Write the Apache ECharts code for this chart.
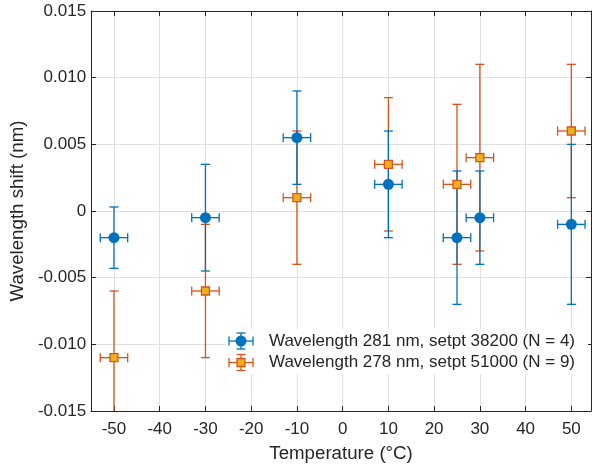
<!DOCTYPE html>
<html>
<head>
<meta charset="utf-8">
<script src="https://cdn.jsdelivr.net/npm/echarts@6/dist/echarts.min.js"></script>
<style>
  html, body { margin: 0; padding: 0; background: #fff; }
  #chart { width: 592px; height: 468px; }
</style>
</head>
<body>
<div id="chart"></div>
<script>
// temperatures (°C)
const temps = [-50, -30, -10, 10, 25, 30, 50]
const tempErr = 3

// 281 nm, setpt 38200
const shift281 = [-0.002, -0.0005, 0.0055, 0.002, -0.002, -0.0005, -0.001]
const err281 = [0.0023, 0.004, 0.0035, 0.004, 0.005, 0.0035, 0.006]

// 278 nm, setpt 51000
const shift278 = [-0.011, -0.006, 0.001, 0.0035, 0.002, 0.004, 0.006]
const err278 = [0.005, 0.005, 0.005, 0.005, 0.006, 0.007, 0.005]

const legendNames = [
  'Wavelength 281 nm, setpt 38200 (N = 4)',
  'Wavelength 278 nm, setpt 51000 (N = 9)'
]

const BLUE = '#0072BD'
const ORANGE = '#D95319'
const YELLOW = '#EDB120'
const INK = '#262626'
const GRID = '#e0e0e0'
const FONT = 'Liberation Sans, Arial, sans-serif'

function rows (ys, errs) {
  return temps.map((t, i) => [t, ys[i], errs[i], tempErr])
}

function errorBars (color) {
  return function (params, api) {
    const x = api.value(0)
    const y = api.value(1)
    const ey = api.value(2)
    const ex = api.value(3)
    const top = api.coord([x, y + ey])
    const bot = api.coord([x, y - ey])
    const l = api.coord([x - ex, y])
    const r = api.coord([x + ex, y])
    const cap = 4.5
    const style = { stroke: color, lineWidth: 1.3 }
    const seg = (x1, y1, x2, y2) => ({ type: 'line', shape: { x1, y1, x2, y2 }, style })
    return {
      type: 'group',
      children: [
        seg(top[0], top[1], bot[0], bot[1]),
        seg(top[0] - cap, top[1], top[0] + cap, top[1]),
        seg(bot[0] - cap, bot[1], bot[0] + cap, bot[1]),
        seg(l[0], l[1], r[0], r[1]),
        seg(l[0], l[1] - cap, l[0], l[1] + cap),
        seg(r[0], r[1] - cap, r[0], r[1] + cap)
      ]
    }
  }
}

function legendEntry (cy, color, marker) {
  const style = { stroke: color, lineWidth: 1.3 }
  const seg = (x1, y1, x2, y2) => ({ type: 'line', z: 101, shape: { x1, y1, x2, y2 }, style })
  const cx = 241
  return [
    seg(cx - 12, cy, cx + 12, cy),
    seg(cx - 12, cy - 4.5, cx - 12, cy + 4.5),
    seg(cx + 12, cy - 4.5, cx + 12, cy + 4.5),
    seg(cx, cy - 8, cx, cy + 8),
    seg(cx - 4.5, cy - 8, cx + 4.5, cy - 8),
    seg(cx - 4.5, cy + 8, cx + 4.5, cy + 8),
    marker
  ]
}

const chart = echarts.init(document.getElementById('chart'))

const xCommon = {
  type: 'value',
  min: -55,
  max: 54.3,
  minInterval: 10,
  maxInterval: 10,
  axisLine: { show: true, onZero: false, lineStyle: { color: INK, width: 1 } },
  axisTick: { show: true, inside: true, length: 5, lineStyle: { color: INK } }
}
const yCommon = {
  type: 'value',
  min: -0.015,
  max: 0.015,
  interval: 0.005,
  axisLine: { show: true, onZero: false, lineStyle: { color: INK, width: 1 } },
  axisTick: { show: true, inside: true, length: 5, lineStyle: { color: INK } }
}

chart.setOption({
  animation: false,
  textStyle: { fontFamily: FONT },
  grid: { left: 86.5, right: 1, top: 11, bottom: 56.5 },
  xAxis: [
    Object.assign({}, xCommon, {
      position: 'bottom',
      name: 'Temperature (°C)',
      nameLocation: 'middle',
      nameGap: 33,
      nameTextStyle: { color: INK, fontSize: 18.7, fontFamily: FONT },
      axisLabel: { color: INK, fontSize: 17, margin: 10, showMinLabel: false, showMaxLabel: false, fontFamily: FONT },
      splitLine: { show: true, lineStyle: { color: GRID, width: 1 } }
    }),
    Object.assign({}, xCommon, {
      position: 'top',
      axisLabel: { show: false },
      splitLine: { show: false }
    })
  ],
  yAxis: [
    Object.assign({}, yCommon, {
      position: 'left',
      name: 'Wavelength shift (nm)',
      nameLocation: 'middle',
      nameGap: 60,
      nameTextStyle: { color: INK, fontSize: 18.7, fontFamily: FONT },
      axisLabel: {
        color: INK,
        fontSize: 17,
        margin: 5,
        fontFamily: FONT,
        formatter: v => Math.abs(v) < 1e-9 ? '0' : v.toFixed(3)
      },
      splitLine: { show: true, lineStyle: { color: GRID, width: 1 } }
    }),
    Object.assign({}, yCommon, {
      position: 'right',
      axisLabel: { show: false },
      splitLine: { show: false }
    })
  ],
  series: [
    {
      type: 'custom',
      name: legendNames[1] + ' bars',
      clip: true,
      renderItem: errorBars(ORANGE),
      data: rows(shift278, err278),
      z: 2
    },
    {
      type: 'custom',
      name: legendNames[0] + ' bars',
      clip: true,
      renderItem: errorBars(BLUE),
      data: rows(shift281, err281),
      z: 3
    },
    {
      type: 'scatter',
      name: legendNames[0],
      symbol: 'circle',
      symbolSize: 11,
      itemStyle: { color: BLUE, opacity: 1 },
      data: temps.map((t, i) => [t, shift281[i]]),
      z: 4
    },
    {
      type: 'scatter',
      name: legendNames[1],
      symbol: 'rect',
      symbolSize: 8,
      itemStyle: { color: YELLOW, borderColor: ORANGE, borderWidth: 1.3, opacity: 1 },
      data: temps.map((t, i) => [t, shift278[i]]),
      z: 5
    }
  ],
  graphic: [
    { type: 'rect', z: 100, shape: { x: 226, y: 329, width: 362, height: 45 }, style: { fill: '#fff' } }
  ].concat(
    legendEntry(341, BLUE, { type: 'circle', z: 102, shape: { cx: 241, cy: 341, r: 5.5 }, style: { fill: BLUE } }),
    legendEntry(362.5, ORANGE, { type: 'rect', z: 102, shape: { x: 237, y: 358.5, width: 8, height: 8 }, style: { fill: YELLOW, stroke: ORANGE, lineWidth: 1.3 } }),
    [
      { type: 'text', z: 102, style: { x: 269, y: 341, text: legendNames[0], fill: INK, font: '17px ' + FONT, verticalAlign: 'middle' } },
      { type: 'text', z: 102, style: { x: 269, y: 362.5, text: legendNames[1], fill: INK, font: '17px ' + FONT, verticalAlign: 'middle' } }
    ]
  )
})
</script>
</body>
</html>
